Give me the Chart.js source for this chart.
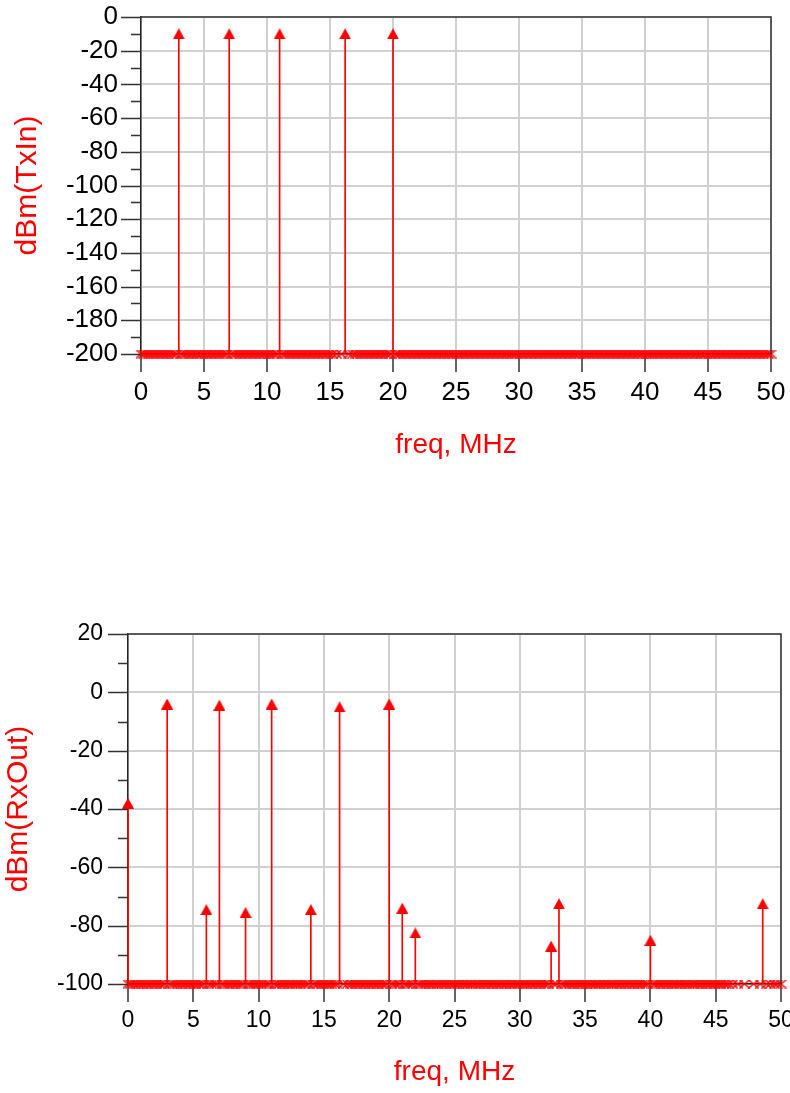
<!DOCTYPE html>
<html><head><meta charset="utf-8">
<script src="https://cdn.jsdelivr.net/npm/chart.js@4.4.0/dist/chart.umd.min.js"></script>
<style>
html,body{margin:0;padding:0;background:#fff;width:790px;height:1093px;overflow:hidden;}
.box{position:absolute;left:0;width:790px;}
#b1{top:0;height:480px;}
#b2{top:540px;height:553px;}
</style></head><body>
<div class="box" id="b1"><canvas id="c1"></canvas></div>
<div class="box" id="b2"><canvas id="c2"></canvas></div>
<script>
// ---- data ----
const txToneFreqs  = [3, 7, 11, 16.2, 20];
const txToneLevels = [-10, -10, -10, -10, -10];
const txFloorLevel = -200;

const rxToneFreqs  = [0, 3, 6, 7, 9, 11, 14, 16.2, 20, 21, 22, 32.4, 33, 40, 48.6];
const rxToneLevels = [-38, -4, -74.5, -4.4, -75.5, -4, -74.5, -5, -4, -74, -82.5, -87, -72.5, -85, -72.5];
const rxFloorLevel = -100;

const txFloorFreqs = [0,0.2,0.4,0.6,0.8,1.0,1.2,1.4,1.6,1.8,2.0,2.2,2.4,2.6,2.8,3.2,3.4,3.6,3.8,4.0,4.2,4.4,4.6,4.8,5.0,5.2,5.4,5.6,5.8,6.0,6.2,6.4,6.6,6.8,7.2,7.4,7.6,7.8,8.0,8.2,8.4,8.6,8.8,9.0,9.2,9.4,9.6,9.8,10.0,10.2,10.4,10.6,10.8,11.2,11.4,11.6,11.8,12.0,12.2,12.4,12.6,12.8,13.0,13.2,13.4,13.6,13.8,14.0,14.2,14.4,14.6,14.8,15.0,15.2,15.5,15.9,16.5,16.8,17.0,17.2,17.4,17.6,17.8,18.0,18.2,18.4,18.6,18.8,19.0,19.2,19.4,19.6,19.8,20.2,20.4,20.6,20.8,21.0,21.2,21.4,21.6,21.8,22.0,22.2,22.4,22.6,22.8,23.0,23.2,23.4,23.6,23.8,24.0,24.2,24.4,24.6,24.8,25.0,25.2,25.4,25.6,25.8,26.0,26.2,26.4,26.6,26.8,27.0,27.2,27.4,27.6,27.8,28.0,28.2,28.4,28.6,28.8,29.0,29.2,29.4,29.6,29.8,30.0,30.2,30.4,30.6,30.8,31.0,31.2,31.4,31.6,31.8,32.0,32.2,32.4,32.6,32.8,33.0,33.2,33.4,33.6,33.8,34.0,34.2,34.4,34.6,34.8,35.0,35.2,35.4,35.6,35.8,36.0,36.2,36.4,36.6,36.8,37.0,37.2,37.4,37.6,37.8,38.0,38.2,38.4,38.6,38.8,39.0,39.2,39.4,39.6,39.8,40.0,40.2,40.4,40.6,40.8,41.0,41.2,41.4,41.6,41.8,42.0,42.2,42.4,42.6,42.8,43.0,43.2,43.4,43.6,43.8,44.0,44.2,44.4,44.6,44.8,45.0,45.2,45.4,45.6,45.8,46.0,46.2,46.4,46.6,46.8,47.0,47.2,47.4,47.6,47.8,48.0,48.2,48.4,48.6,48.8,49.0,49.2,49.4,49.6,49.8,50.0];

const rxFloorFreqs = [0,0.2,0.4,0.6,0.8,1.0,1.2,1.4,1.6,1.8,2.0,2.2,2.4,2.6,2.8,3.2,3.4,3.6,3.8,4.0,4.2,4.4,4.6,4.8,5.0,5.2,5.4,5.6,5.8,6.2,6.4,6.6,6.8,7.2,7.4,7.6,7.8,8.0,8.2,8.4,8.6,8.8,9.2,9.4,9.6,9.8,10.0,10.2,10.4,10.6,10.8,11.2,11.4,11.6,11.8,12.0,12.2,12.4,12.6,12.8,13.0,13.2,13.4,13.6,13.8,14.2,14.4,14.6,14.8,15.0,15.2,15.4,15.6,15.8,16.0,16.5,16.8,17.0,17.2,17.4,17.6,17.8,18.0,18.2,18.4,18.6,18.8,19.0,19.2,19.4,19.6,19.8,20.2,20.4,20.6,20.8,21.2,21.4,21.6,21.8,22.2,22.4,22.6,22.8,23.0,23.2,23.4,23.6,23.8,24.0,24.2,24.4,24.6,24.8,25.0,25.2,25.4,25.6,25.8,26.0,26.2,26.4,26.6,26.8,27.0,27.2,27.4,27.6,27.8,28.0,28.2,28.4,28.6,28.8,29.0,29.2,29.4,29.6,29.8,30.0,30.2,30.4,30.6,30.8,31.0,31.2,31.4,31.6,31.8,32.0,32.2,32.6,32.8,33.2,33.4,33.6,33.8,34.0,34.2,34.4,34.6,34.8,35.0,35.2,35.4,35.6,35.8,36.0,36.2,36.4,36.6,36.8,37.0,37.2,37.4,37.6,37.8,38.0,38.2,38.4,38.6,38.8,39.0,39.2,39.4,39.6,39.8,40.2,40.4,40.6,40.8,41.0,41.2,41.4,41.6,41.8,42.0,42.2,42.4,42.6,42.8,43.0,43.2,43.4,43.6,43.8,44.0,44.2,44.4,44.6,44.8,45.0,45.2,45.4,45.6,45.8,46.0,46.3,46.7,47.2,47.9,48.4,48.9,49.2,49.5,49.7,50.0];

const xTickStep = 5;
const yMajorStep = 20;
const yMinorStep = 10;

// ---- style helpers ----
const RED = '#ff0000';
const FONT = 'Liberation Sans, Arial, Helvetica, sans-serif';
Chart.defaults.font.family = FONT;

function makeTriangle() {
  const c = document.createElement('canvas');
  c.width = 12; c.height = 11;
  const g = c.getContext('2d');
  g.fillStyle = RED;
  g.beginPath(); g.moveTo(6, 0); g.lineTo(12, 11); g.lineTo(0, 11); g.closePath(); g.fill();
  return c;
}
function makeCross() {
  const c = document.createElement('canvas');
  c.width = 11; c.height = 9;
  const g = c.getContext('2d');
  g.strokeStyle = RED; g.lineWidth = 1.5;
  g.beginPath();
  g.moveTo(0.5, 0.5); g.lineTo(10.5, 8.5);
  g.moveTo(10.5, 0.5); g.lineTo(0.5, 8.5);
  g.stroke();
  return c;
}
const TRI = makeTriangle();
const CROSS = makeCross();

const framePlugin = {
  id: 'frame',
  afterDraw(chart) {
    const {ctx, chartArea: a, scales: {y}} = chart;
    ctx.save();
    ctx.strokeStyle = '#333';
    ctx.lineWidth = 1.5;
    ctx.beginPath();
    ctx.moveTo(a.left, a.top); ctx.lineTo(a.right, a.top); ctx.lineTo(a.right, a.bottom);
    ctx.stroke();
    // y tick marks: long for major, short for minor
    ctx.beginPath();
    y.ticks.forEach(t => {
      const py = Math.round(y.getPixelForValue(t.value)) + 0.5;
      const len = (Math.abs(t.value) % yMajorStep === 0) ? 20 : 10;
      ctx.moveTo(a.left - len, py); ctx.lineTo(a.left, py);
    });
    ctx.stroke();
    ctx.restore();
  }
};

function buildChart(canvasId, cfg) {
  const stems = cfg.toneFreqs.map((f, i) => ({x: f, y: [cfg.floor, cfg.toneLevels[i]]}));
  const tops = cfg.toneFreqs.map((f, i) => ({x: f, y: cfg.toneLevels[i]}));
  const floorPts = cfg.floorFreqs.map(f => ({x: f, y: cfg.floor}));
  return new Chart(document.getElementById(canvasId), {
    type: 'scatter',
    data: {
      datasets: [
        {type: 'scatter', data: floorPts, pointStyle: CROSS, pointRadius: 5, clip: false, showLine: false, order: 3},
        {type: 'bar', data: stems, backgroundColor: RED, borderWidth: 0, barThickness: 1, grouped: false, clip: false, order: 2},
        {type: 'scatter', data: tops, pointStyle: TRI, pointRadius: 6, clip: false, showLine: false, order: 1}
      ]
    },
    options: {
      responsive: true, maintainAspectRatio: false, animation: false, devicePixelRatio: 1,
      events: [],
      layout: {padding: {top: cfg.padTop, right: cfg.padRight, left: 0, bottom: 0}},
      plugins: {legend: {display: false}, tooltip: {enabled: false}},
      scales: {
        x: {
          type: 'linear', min: 0, max: 50, offset: false,
          ticks: {stepSize: xTickStep, color: '#000', font: {size: cfg.tickSize}, padding: cfg.xLabelPad, maxRotation: 0, autoSkip: false},
          grid: {offset: false, color: '#d0d0d0', lineWidth: 2, drawTicks: true, tickLength: 18, tickColor: '#333', tickWidth: 1.5},
          border: {display: true, color: '#222', width: 1.5},
          title: {display: true, text: 'freq, MHz', color: RED, font: {size: 28}, padding: {top: 0, bottom: cfg.xTitlePad}},
          afterFit(s) { s.height = cfg.xHeight; s.paddingLeft = 0; s.paddingRight = 0; }
        },
        y: {
          type: 'linear', min: cfg.yMin, max: cfg.yMax,
          ticks: {stepSize: yMinorStep, autoSkip: false, color: '#000', font: {size: cfg.tickSize}, padding: cfg.yLabelPad,
                  callback: v => (Math.abs(v) % yMajorStep === 0 ? String(v) : '')},
          grid: {color: c => (Math.abs(c.tick.value) % yMajorStep === 0 ? '#d0d0d0' : 'rgba(0,0,0,0)'), lineWidth: 2, drawTicks: false},
          border: {display: true, color: '#222', width: 1.5},
          title: {display: true, text: cfg.yTitle, color: RED, font: {size: 30}, padding: {top: cfg.yTitlePad, bottom: 0}},
          afterFit(s) { s.width = cfg.yWidth; s.paddingTop = 0; s.paddingBottom = 0; }
        }
      }
    },
    plugins: [framePlugin]
  });
}

buildChart('c1', {
  toneFreqs: txToneFreqs, toneLevels: txToneLevels, floor: txFloorLevel, floorFreqs: txFloorFreqs,
  yMin: -200, yMax: 0, yTitle: 'dBm(TxIn)',
  padTop: 17, padRight: 19, yWidth: 141, xHeight: 126,
  tickSize: 26, xLabelPad: 5, yLabelPad: 23, xTitlePad: 18, yTitlePad: 10
});
buildChart('c2', {
  toneFreqs: rxToneFreqs, toneLevels: rxToneLevels, floor: rxFloorLevel, floorFreqs: rxFloorFreqs,
  yMin: -100, yMax: 20, yTitle: 'dBm(RxOut)',
  padTop: 94, padRight: 9, yWidth: 128, xHeight: 109,
  tickSize: 23, xLabelPad: 5, yLabelPad: 25, xTitlePad: 4, yTitlePad: 1
});
</script>
</body></html>
